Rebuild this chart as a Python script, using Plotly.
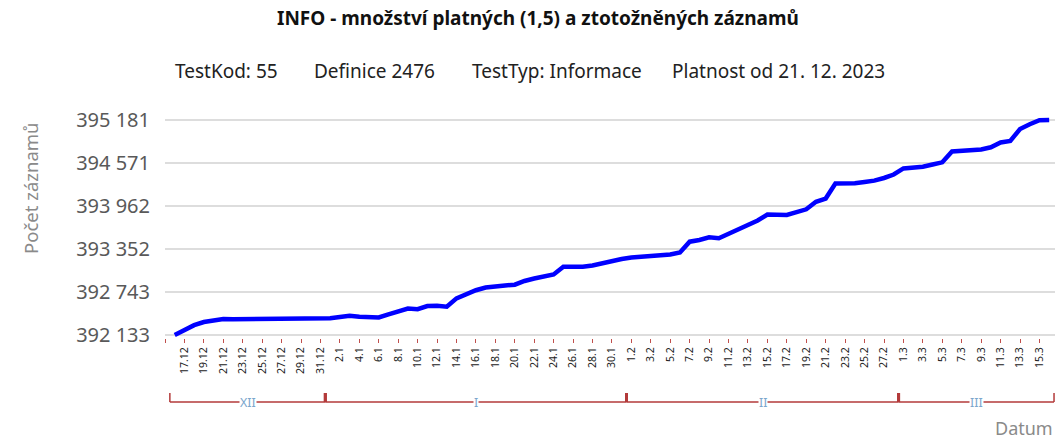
import plotly.graph_objects as go

# ---- data ----
days_dec = list(range(16, 32))
days_jan = list(range(1, 32))
days_feb = list(range(1, 29))
days_mar = list(range(1, 17))
month_names = ["XII", "I", "II", "III"]
month_nums = [12, 1, 2, 3]
month_days = [days_dec, days_jan, days_feb, days_mar]

values = [
    392133, 392197, 392272, 392317, 392341, 392360, 392356, 392357, 392358, 392358,
    392360, 392362, 392364, 392366, 392368, 392370, 392370, 392388, 392407, 392391,
    392384, 392381, 392424, 392466, 392509, 392499, 392544, 392547, 392534, 392653,
    392714, 392768, 392806, 392825, 392835, 392846, 392899, 392934, 392962, 392991,
    393100, 393101, 393101, 393118, 393154, 393182, 393210, 393232, 393239, 393246,
    393260, 393274, 393303, 393456, 393480, 393517, 393505, 393565, 393629, 393692,
    393756, 393841, 393840, 393834, 393874, 393915, 394021, 394068, 394281, 394277,
    394285, 394302, 394321, 394359, 394408, 394494, 394509, 394518, 394550, 394581,
    394734, 394741, 394741, 394763, 394794, 394862, 394883, 395053, 395120, 395178,
    395181,
]
y_ticks = [392133, 392743, 393352, 393962, 394571, 395181]

title = "INFO - množství platných (1,5) a ztotožněných záznamů"
info_items = ["TestKod: 55", "Definice 2476", "TestTyp: Informace", "Platnost od 21. 12. 2023"]
y_title = "Počet záznamů"
x_title = "Datum"

# ---- derived ----
labels = []
month_spans = []
idx = 0
for m, days in zip(month_nums, month_days):
    start = idx
    for d in days:
        labels.append(f"{d}.{m}")
        idx += 1
    month_spans.append((start - 0.5, idx - 0.5))
x = list(range(len(labels)))

tickvals = [-1] + [i for i in x if i % 2 == 1]
ticktext = [""] + [labels[i] for i in x if i % 2 == 1]

FONT = "Noto Sans"
L, R, T, B = 165, 1, 117, 101
W, H = 1056, 439
PW = W - L - R
PH = H - T - B
X0, X1 = -1, 90.6


def px_to_paper_x(px):
    return (px - L) / PW


def px_to_paper_y(py):
    return (H - B - py) / PH


upp = (y_ticks[-1] - y_ticks[0]) / (335 - 120)
ymin = y_ticks[0] - 3 * upp
ymax = y_ticks[-1] + 3 * upp

fig = go.Figure()
fig.add_trace(go.Scatter(
    x=x, y=values, mode="lines",
    line=dict(color="#0000ff", width=4.5),
    hoverinfo="skip",
))

shapes = []
shapes.append(dict(type="line", xref="paper", yref="y", x0=0, x1=1,
                   y0=y_ticks[0], y1=y_ticks[0],
                   line=dict(color="#555555", width=2), layer="below"))

red = "#b33a3a"
yb_line = px_to_paper_y(402)
yb_top = px_to_paper_y(393)
for k, (a, b) in enumerate(month_spans):
    shapes.append(dict(type="line", xref="x", yref="paper", x0=a, x1=b,
                       y0=yb_line, y1=yb_line, line=dict(color=red, width=1.5)))
for k, (a, b) in enumerate(month_spans):
    for edge in (a, b):
        inner = (edge != month_spans[0][0]) and (edge != month_spans[-1][1])
        shapes.append(dict(type="line", xref="x", yref="paper", x0=edge, x1=edge,
                           y0=yb_line, y1=yb_top,
                           line=dict(color=red, width=3 if inner else 1.5)))

annotations = []
annotations.append(dict(text=f"<b>{title}</b>", xref="paper", yref="paper",
                        x=px_to_paper_x(538), y=px_to_paper_y(18),
                        xanchor="center", yanchor="middle", showarrow=False,
                        font=dict(family=FONT, size=19, color="#111111")))
info_x = [173, 312, 470, 670]
for t, px in zip(info_items, info_x):
    annotations.append(dict(text=t, xref="paper", yref="paper",
                            x=px_to_paper_x(px), y=px_to_paper_y(71),
                            xanchor="left", yanchor="middle", showarrow=False,
                            font=dict(family=FONT, size=19, color="#222222")))
annotations.append(dict(text=y_title, xref="paper", yref="paper",
                        x=px_to_paper_x(30), y=px_to_paper_y(188), textangle=-90,
                        xanchor="center", yanchor="middle", showarrow=False,
                        font=dict(family=FONT, size=18.5, color="#8a8a8a")))
annotations.append(dict(text=x_title, xref="paper", yref="paper",
                        x=1, y=px_to_paper_y(428),
                        xanchor="right", yanchor="middle", showarrow=False,
                        font=dict(family=FONT, size=18, color="#8a8a8a")))
for name, (a, b) in zip(month_names, month_spans):
    annotations.append(dict(text=name, xref="x", yref="paper",
                            x=(a + b) / 2, y=yb_line,
                            xanchor="center", yanchor="middle", showarrow=False,
                            bgcolor="white", borderpad=0,
                            font=dict(family=FONT, size=12.5, color="#7aa6cc")))

fig.update_layout(
    width=W, height=H,
    margin=dict(l=L, r=R, t=T, b=B),
    paper_bgcolor="white", plot_bgcolor="white",
    showlegend=False,
    shapes=shapes, annotations=annotations,
    xaxis=dict(range=[X0, X1], tickmode="array", tickvals=tickvals, ticktext=ticktext,
               tickangle=-90, ticks="outside", ticklen=4, tickwidth=1, tickcolor="#c0504d",
               showgrid=False, showline=False, zeroline=False,
               tickfont=dict(family=FONT, size=10.5, color="#222222")),
    yaxis=dict(range=[ymin, ymax], tickmode="array", tickvals=y_ticks,
               ticktext=[f"{v:,}".replace(",", " ") for v in y_ticks],
               showgrid=True, gridcolor="#dddddd", gridwidth=1.5,
               zeroline=False, showline=False, ticks="", ticklabelstandoff=14,
               tickfont=dict(family=FONT, size=20, color="#595959")),
)

fig.write_html("out.html", config={"displayModeBar": False},
               post_script="document.body.style.margin='0';")
